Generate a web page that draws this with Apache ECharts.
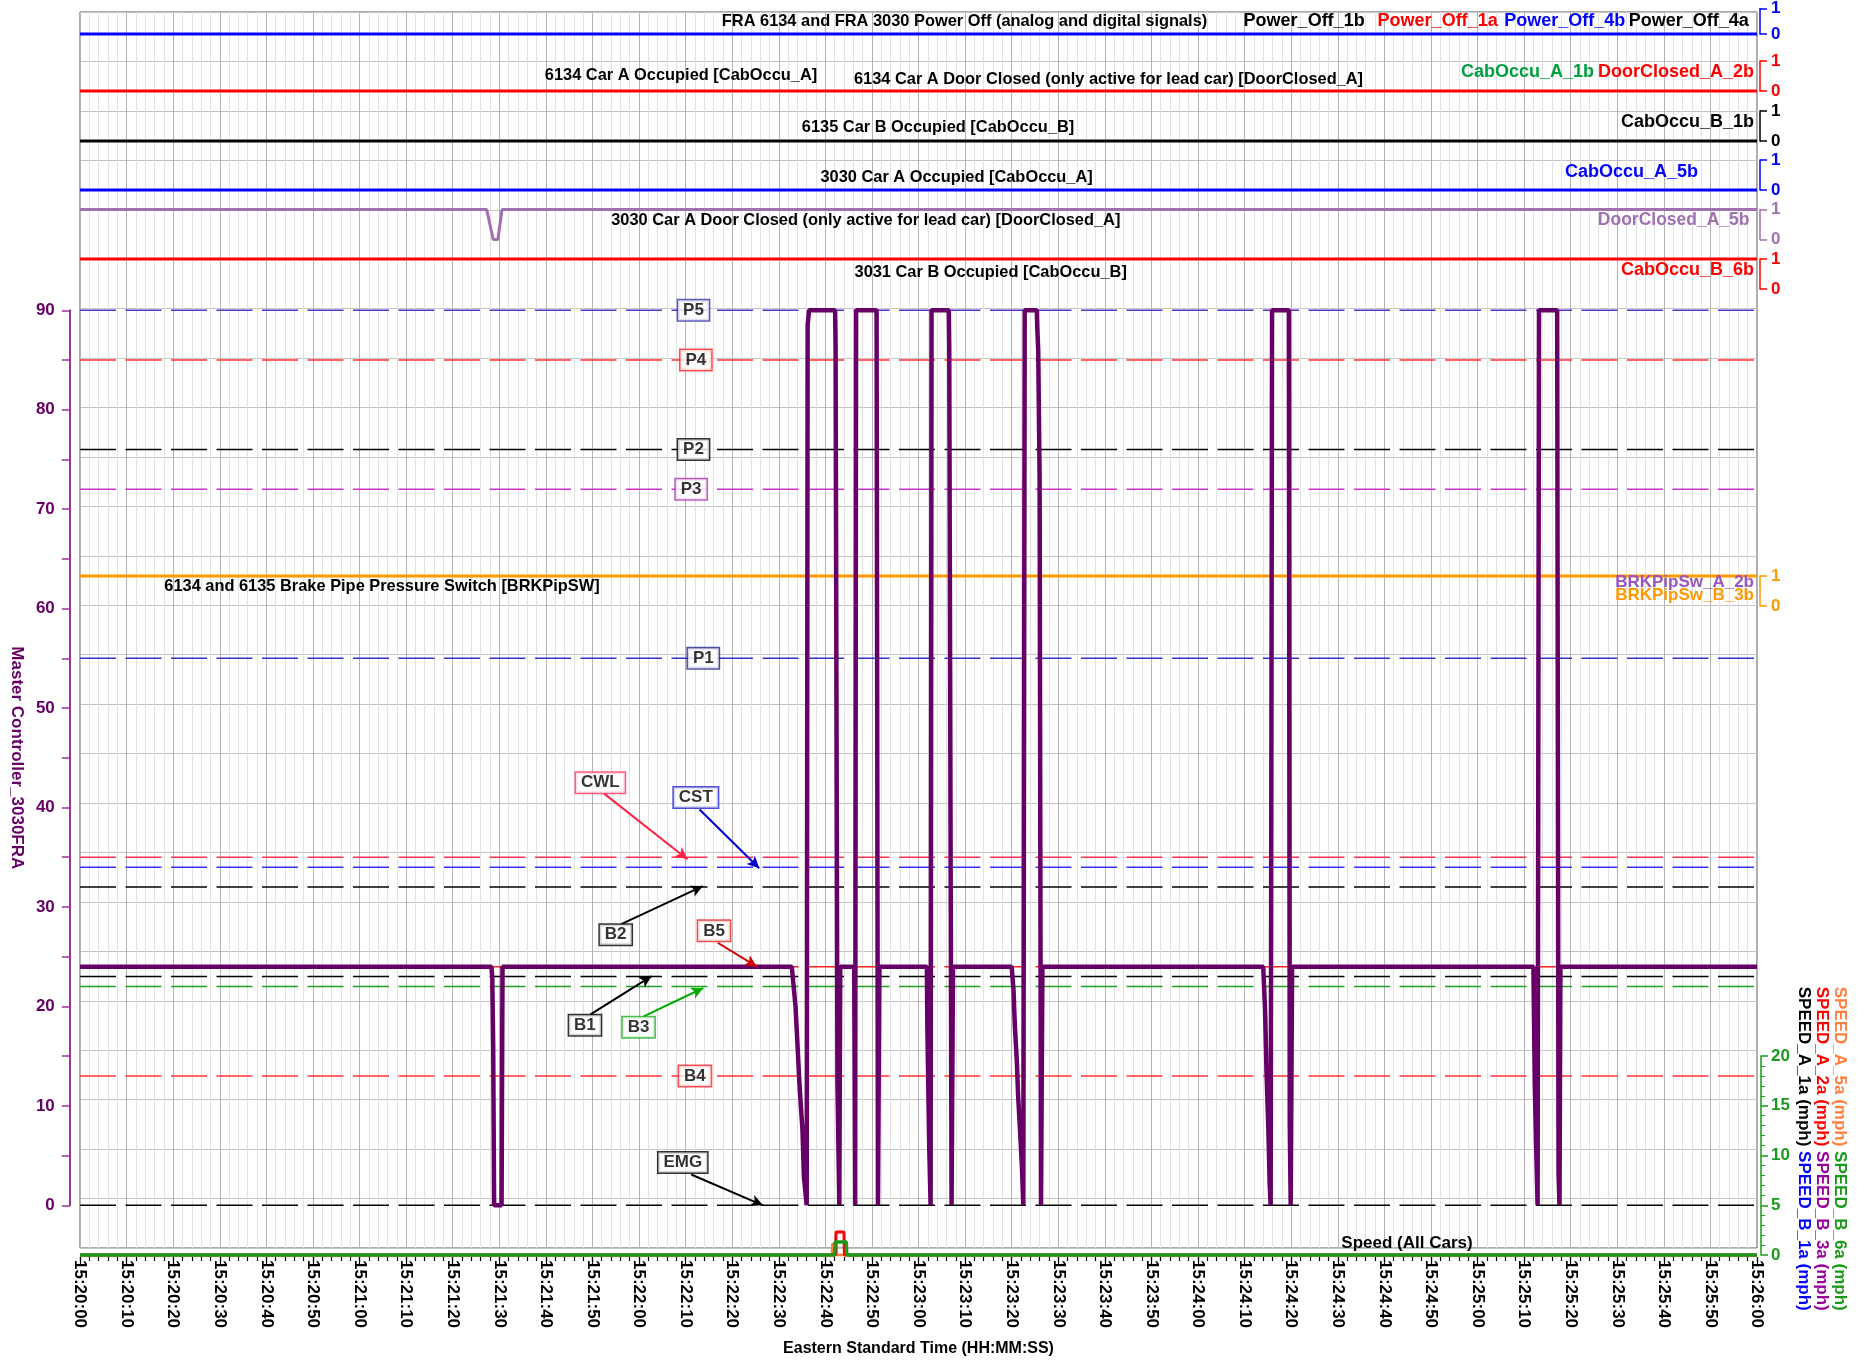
<!DOCTYPE html>
<html>
<head>
<meta charset="utf-8">
<script src="https://cdn.jsdelivr.net/npm/echarts@6/dist/echarts.min.js"></script>
<style>
  html, body { margin: 0; padding: 0; background: #fff; }
  #main { width: 1875px; height: 1362px; }
</style>
</head>
<body>
<div id="main"></div>
<script>
  // x axis = seconds after 15:20:00 (Eastern Standard Time)
  var T0 = 15 * 3600 + 20 * 60

  // Master Controller_3030FRA
  var mcTime = [0, 88.3, 88.5, 88.7, 88.9, 90.5, 90.7,
    152.8, 153.6, 153.9, 154.4, 154.7, 155.1, 155.4, 156.0, 156.1, 156.2, 156.5,
    162.1, 162.2, 162.5, 162.6, 162.8, 163.0, 163.2,
    166.2, 166.4, 166.6, 171.0, 171.3, 171.6,
    181.8, 181.9, 182.3, 182.6, 182.8, 186.5, 186.6, 186.8, 187.1, 187.4,
    200.0, 200.4, 200.7, 201.1, 201.4, 201.8, 202.2, 202.5, 202.8, 205.4, 205.5, 205.7, 206.0, 206.3, 206.6,
    254.0, 254.4, 254.7, 255.1, 255.4, 255.6, 255.9, 259.5, 259.7, 259.9, 260.2,
    312.0, 312.3, 312.6, 312.9, 313.2, 317.1, 317.4, 317.6, 317.8, 360]
  var mcValue = [24, 24, 23, 16, 0, 0, 24,
    24, 20, 17.3, 12.6, 10.3, 7.5, 2.9, 0, 0, 88.5, 90,
    90, 86.3, 86.3, 12.3, 12.3, 0, 24,
    24, 0, 90, 90, 0, 24,
    24, 18, 6, 0, 90, 90, 86.3, 86.3, 0, 24,
    24, 21.6, 17.9, 14.6, 10.9, 7.5, 3.9, 0, 90, 90, 88.2, 86, 73, 0, 24,
    24, 19.6, 13.5, 7.7, 2, 0, 90, 90, 8, 0, 24,
    24, 12, 5.8, 0, 90, 90, 3.2, 0, 24, 24]

  // handle position reference levels
  var refNames = ['P5', 'P4', 'P2', 'P3', 'P1', 'CWL', 'CST', 'B2', 'B5', 'B1', 'B3', 'B4', 'EMG']
  var refValues = [90, 85, 76, 72, 55, 35, 34, 32, 24, 23, 22, 13, 0]

  // digital signals (0 / 1)
  var fullTime = [0, 360]
  var powerOff1b = [0, 0]
  var powerOff1a = [0, 0]
  var powerOff4a = [0, 0]
  var powerOff4b = [0, 0]
  var cabOccuA1b = [0, 0]
  var doorClosedA2b = [0, 0]
  var cabOccuB1b = [0, 0]
  var cabOccuA5b = [0, 0]
  var doorA5bTime = [0, 87.3, 88.7, 89.7, 90.6, 360]
  var doorClosedA5b = [1, 1, 0, 0, 1, 1]
  var cabOccuB6b = [1, 1]
  var brkPipSwA2b = [1, 1]
  var brkPipSwB3b = [1, 1]

  // speeds (mph)
  var speedA1a = [0, 0]
  var speedB1a = [0, 0]
  var speedB3a = [0, 0]
  var speedA5aTime = [0, 161.4, 161.5, 162.4, 162.5, 360]
  var speedA5a = [0, 0, 1.1, 1.1, 0, 0]
  var speedA2aTime = [0, 162.2, 162.3, 164.0, 164.1, 360]
  var speedA2a = [0, 0, 2.3, 2.3, 0, 0]
  var speedB6aTime = [0, 162.0, 162.1, 164.5, 164.6, 360]
  var speedB6a = [0, 0, 1.3, 1.3, 0, 0]

  function zip(ts, vs) {
    return ts.map(function(t, i) { return [t, vs[i]] })
  }
  function hms(v) {
    var s = T0 + Math.round(v)
    var h = Math.floor(s / 3600), m = Math.floor(s / 60) % 60, ss = s % 60
    return h + ':' + (m < 10 ? '0' : '') + m + ':' + (ss < 10 ? '0' : '') + ss
  }

  var FONT = '"Liberation Sans", Arial, sans-serif'
  var L = 80, W = 1677

  // grid 0 = frame, 1 = master controller, 2 = speed, 3..9 = signal strips,
  // 10 = master scale, 11/12 = time ticks under the frame
  var stripTops = [4, 61, 111, 160, 209.5, 259, 576]
  var stripColors = ['#0000ff', '#ff0000', '#000000', '#0000ff', '#a070b0', '#ff0000', '#ff9900']

  var grid = [
    { left: L, width: W, top: 12, height: 1243, show: true, borderColor: '#555', borderWidth: 1 },
    { left: L, width: W, top: 310.3, height: 895 },
    { left: L, width: W, top: 1056, height: 199 }
  ]
  stripTops.forEach(function(t) { grid.push({ left: L, width: W, top: t, height: 30 }) })
  grid.push({ left: 68, width: W + 12, top: 310.3, height: 895 })
  grid.push({ left: L, width: W, top: 1257, height: 8 })
  grid.push({ left: L, width: W, top: 1257, height: 4 })

  var xAxis = grid.map(function(g, i) {
    return { gridIndex: i, type: 'value', min: 0, max: 360, interval: 10, show: false }
  })
  xAxis[0] = {
    gridIndex: 0, type: 'value', min: 0, max: 360, interval: 10, position: 'bottom',
    axisLine: { show: false, onZero: false },
    axisTick: { show: false },
    minorTick: { show: false, splitNumber: 5 },
    axisLabel: {
      rotate: -90, margin: 12, color: '#000', fontWeight: 'bold', fontSize: 17, fontFamily: FONT,
      formatter: hms
    },
    splitLine: { show: true, lineStyle: { color: '#b4b4b4', width: 1 } },
    minorSplitLine: { show: true, lineStyle: { color: '#e2e2e2', width: 1 } },
    name: 'Eastern Standard Time (HH:MM:SS)', nameLocation: 'middle', nameGap: 93,
    nameTextStyle: { color: '#000', fontWeight: 'bold', fontSize: 16, fontFamily: FONT }
  }
  // major (10 s) and minor (2 s) tick marks
  xAxis[11] = {
    gridIndex: 11, type: 'value', min: 0, max: 360, interval: 10,
    axisLine: { show: false }, axisTick: { show: false }, axisLabel: { show: false },
    splitLine: { show: true, lineStyle: { color: '#000', width: 1.2 } }
  }
  xAxis[12] = {
    gridIndex: 12, type: 'value', min: 0, max: 360, interval: 2,
    axisLine: { show: false }, axisTick: { show: false }, axisLabel: { show: false },
    splitLine: { show: true, lineStyle: { color: '#000', width: 1.2 } }
  }

  var yAxis = grid.map(function(g, i) {
    return { gridIndex: i, type: 'value', min: 0, max: 1, show: false }
  })
  yAxis[0] = {
    gridIndex: 0, type: 'value', min: -5, max: 120, interval: 5,
    axisLine: { show: false, onZero: false }, axisTick: { show: false }, axisLabel: { show: false },
    splitLine: { show: true, lineStyle: { color: '#c4c4c4', width: 1 } }
  }
  yAxis[1] = { gridIndex: 1, type: 'value', min: 0, max: 90, interval: 5, show: false }
  yAxis[2] = {
    gridIndex: 2, type: 'value', min: 0, max: 20, interval: 5, position: 'right', offset: 4,
    axisLine: { show: true, onZero: false, lineStyle: { color: '#1a9a1a', width: 1.5 } },
    axisTick: { show: true, inside: false, length: 7, lineStyle: { color: '#1a9a1a', width: 1.5 } },
    minorTick: { show: true, splitNumber: 5, length: 4, lineStyle: { color: '#1a9a1a' } },
    axisLabel: { color: '#1a9a1a', fontWeight: 'bold', fontSize: 17, fontFamily: FONT, margin: 10 },
    splitLine: { show: false }
  }
  stripColors.forEach(function(c, i) {
    yAxis[i + 3] = {
      gridIndex: i + 3, type: 'value', min: 0, max: 1, interval: 1, position: 'right', offset: 3,
      axisLine: { show: true, onZero: false, lineStyle: { color: c, width: 1.5 } },
      axisTick: { show: true, inside: false, length: 7, lineStyle: { color: c, width: 1.5 } },
      axisLabel: { color: c, fontWeight: 'bold', fontSize: 17, fontFamily: FONT, margin: 11 },
      splitLine: { show: false }
    }
  })
  // visible master controller scale
  yAxis[10] = {
    gridIndex: 10, type: 'value', min: 0, max: 90, interval: 5, position: 'left',
    axisLine: { show: true, onZero: false, lineStyle: { color: '#993399', width: 2 } },
    axisTick: { show: true, inside: false, length: 8, lineStyle: { color: '#993399', width: 1.5 } },
    axisLabel: {
      color: '#660066', fontWeight: 'bold', fontSize: 17, fontFamily: FONT, margin: 15,
      formatter: function(v) { return v % 10 === 0 ? v : '' }
    },
    splitLine: { show: false },
    name: 'Master Controller_3030FRA', nameLocation: 'middle', nameRotate: -90, nameGap: 40,
    nameTextStyle: { color: '#660066', fontWeight: 'bold', fontSize: 17, fontFamily: FONT }
  }

  function line(name, g, data, color, width, dash) {
    return {
      name: name, type: 'line', xAxisIndex: g, yAxisIndex: g, data: data,
      showSymbol: false, symbol: 'none', clip: false, animation: false,
      lineStyle: { color: color, width: width, type: dash ? [36, 9.5] : 'solid' },
      emphasis: { disabled: true }
    }
  }

  var refColors = ['#5533cc', '#ff3333', '#000000', '#cc33cc', '#3333cc', '#ff3355',
    '#3333ff', '#000000', '#ff2020', '#000000', '#22a022', '#ff3333', '#000000']
  var series = []
  refNames.forEach(function(n, i) {
    series.push(line(n, 1, [[0, refValues[i]], [360, refValues[i]]], refColors[i], 1.5, true))
  })

  // signal strips
  series.push(line('Power_Off_1b', 3, zip(fullTime, powerOff1b), '#000', 2))
  series.push(line('Power_Off_1a', 3, zip(fullTime, powerOff1a), '#ff0000', 2))
  series.push(line('Power_Off_4a', 3, zip(fullTime, powerOff4a), '#000', 2))
  series.push(line('Power_Off_4b', 3, zip(fullTime, powerOff4b), '#0000ff', 3))
  series.push(line('CabOccu_A_1b', 4, zip(fullTime, cabOccuA1b), '#00a040', 2))
  series.push(line('DoorClosed_A_2b', 4, zip(fullTime, doorClosedA2b), '#ff0000', 3))
  series.push(line('CabOccu_B_1b', 5, zip(fullTime, cabOccuB1b), '#000', 3))
  series.push(line('CabOccu_A_5b', 6, zip(fullTime, cabOccuA5b), '#0000ff', 3))
  series.push(line('DoorClosed_A_5b', 7, zip(doorA5bTime, doorClosedA5b), '#a070b0', 3))
  series.push(line('CabOccu_B_6b', 8, zip(fullTime, cabOccuB6b), '#ff0000', 3))
  series.push(line('BRKPipSw_A_2b', 9, zip(fullTime, brkPipSwA2b), '#9955bb', 2))
  series.push(line('BRKPipSw_B_3b', 9, zip(fullTime, brkPipSwB3b), '#ff9900', 3))

  // speeds
  series.push(line('SPEED_A_1a', 2, zip(fullTime, speedA1a), '#000', 2))
  series.push(line('SPEED_B_1a', 2, zip(fullTime, speedB1a), '#0000ff', 2))
  series.push(line('SPEED_B_3a', 2, zip(fullTime, speedB3a), '#990099', 2))
  series.push(line('SPEED_A_5a', 2, zip(speedA5aTime, speedA5a), '#ff7f3f', 2.5))
  series.push(line('SPEED_A_2a', 2, zip(speedA2aTime, speedA2a), '#ff0000', 3))
  series.push(line('SPEED_B_6a', 2, zip(speedB6aTime, speedB6a), '#1a9a1a', 3.5))

  // master controller on top
  series.push(line('Master Controller_3030FRA', 1, zip(mcTime, mcValue), '#660066', 4.5))

  // annotation boxes and arrows (placement in master controller units)
  var boxAt = {
    P5: [131.7, 90], P4: [132.2, 85], P2: [131.7, 76], P3: [131.2, 72], P1: [133.8, 55],
    CWL: [111.7, 42.5], CST: [132.2, 41.0], B2: [115, 27.2], B5: [136.1, 27.6],
    B1: [108.4, 18.1], B3: [119.9, 17.9], B4: [132, 13], EMG: [129.4, 4.3]
  }
  var boxBorder = {
    P5: '#3333aa', P4: '#ff2222', P2: '#000', P3: '#aa33aa', P1: '#222288', CWL: '#ff3366',
    CST: '#2222cc', B2: '#000', B5: '#ee2222', B1: '#000', B3: '#22aa22', B4: '#ff2222', EMG: '#000'
  }
  var arrows = [
    ['CWL', [112.5, 41.4], [130.4, 34.8], '#ff2244'],
    ['CST', [133, 39.8], [145.8, 33.9], '#0000cc'],
    ['B2', [116.3, 28.3], [133.7, 32.1], '#000'],
    ['B5', [136.9, 26.4], [145.3, 24], '#cc0000'],
    ['B1', [109.6, 19.2], [122.7, 23.05], '#000'],
    ['B3', [121, 19], [133.8, 21.85], '#00aa00'],
    ['EMG', [131.2, 3.1], [146.6, 0], '#000']
  ]

  series.push({
    type: 'scatter', xAxisIndex: 1, yAxisIndex: 1, symbolSize: 0, animation: false, z: 5,
    silent: true,
    data: refNames.map(function(n) {
      return {
        name: n, value: boxAt[n],
        label: { borderColor: boxBorder[n] }
      }
    }),
    label: {
      show: true, position: 'inside', formatter: '{b}', color: '#000', fontWeight: 'bold',
      fontSize: 17, fontFamily: FONT, backgroundColor: '#fff', borderWidth: 1.5,
      padding: [2, 5, 1, 5]
    },
    markLine: {
      silent: true, animation: false, symbol: ['none', 'arrow'], symbolSize: [9, 12],
      label: { show: false },
      data: arrows.map(function(a) {
        return [
          { coord: a[1], lineStyle: { color: a[3], width: 2, type: 'solid' } },
          { coord: a[2] }
        ]
      })
    }
  })

  function txt(x, y, s, color, size, align, weight) {
    return {
      type: 'text', x: x, y: y, silent: true, z: 100,
      style: {
        text: s, fill: color || '#000', align: align || 'center', verticalAlign: 'middle',
        font: (weight || 'bold') + ' ' + (size || 16.4) + 'px ' + FONT
      }
    }
  }

  var graphic = [
    txt(964.5, 21.5, 'FRA 6134 and FRA 3030 Power Off (analog and digital signals)'),
    txt(1243.6, 21.5, 'Power_Off_1b', '#000', 18, 'left'),
    txt(1377.6, 21.5, 'Power_Off_1a', '#ff0000', 18, 'left'),
    txt(1504.3, 21.5, 'Power_Off_4b', '#0000ff', 18, 'left'),
    txt(1628.7, 21.5, 'Power_Off_4a', '#000', 18, 'left'),
    txt(681, 75, '6134 Car A Occupied [CabOccu_A]'),
    txt(1108.5, 79, '6134 Car A Door Closed (only active for lead car) [DoorClosed_A]'),
    txt(1461, 71.7, 'CabOccu_A_1b', '#00a040', 18, 'left'),
    txt(1754, 71.7, 'DoorClosed_A_2b', '#ff0000', 18, 'right'),
    txt(938, 127, '6135 Car B Occupied [CabOccu_B]'),
    txt(1754, 122, 'CabOccu_B_1b', '#000', 18, 'right'),
    txt(956.6, 177, '3030 Car A Occupied [CabOccu_A]'),
    txt(1698, 172, 'CabOccu_A_5b', '#0000ff', 18, 'right'),
    txt(865.8, 220, '3030 Car A Door Closed (only active for lead car) [DoorClosed_A]'),
    txt(1749.5, 220, 'DoorClosed_A_5b', '#a070b0', 17.5, 'right'),
    txt(990.7, 272.6, '3031 Car B Occupied [CabOccu_B]'),
    txt(1754, 270, 'CabOccu_B_6b', '#ff0000', 18, 'right'),
    txt(382, 586, '6134 and 6135 Brake Pipe Pressure Switch [BRKPipSW]'),
    txt(1754, 582, 'BRKPipSw_A_2b', '#9955bb', 17, 'right'),
    txt(1754, 595.5, 'BRKPipSw_B_3b', '#ff9900', 17, 'right'),
    txt(1407, 1243, 'Speed (All Cars)', '#000', 17)
  ]

  // rotated speed legend, reads top to bottom
  var speedLegend = [
    [1840, '{o|SPEED_A_5a (mph)} {g|SPEED_B_6a (mph)}'],
    [1821.7, '{r|SPEED_A_2a (mph)} {p|SPEED_B_3a (mph)}'],
    [1803.3, '{k|SPEED_A_1a (mph)} {b|SPEED_B_1a (mph)}']
  ]
  var legFont = 'bold 17px ' + FONT
  speedLegend.forEach(function(c) {
    graphic.push({
      type: 'text', x: c[0], y: 986.7, rotation: -Math.PI / 2, silent: true, z: 100,
      style: {
        text: c[1], align: 'left', verticalAlign: 'middle', font: legFont,
        rich: {
          o: { fill: '#ff7f3f', font: legFont }, g: { fill: '#1a9a1a', font: legFont },
          r: { fill: '#ff0000', font: legFont }, p: { fill: '#990099', font: legFont },
          k: { fill: '#000000', font: legFont }, b: { fill: '#0000ff', font: legFont }
        }
      }
    })
  })

  var chart = echarts.init(document.getElementById('main'))
  chart.setOption({
    animation: false,
    backgroundColor: '#fff',
    grid: grid,
    xAxis: xAxis,
    yAxis: yAxis,
    series: series,
    graphic: graphic
  })
</script>
</body>
</html>
